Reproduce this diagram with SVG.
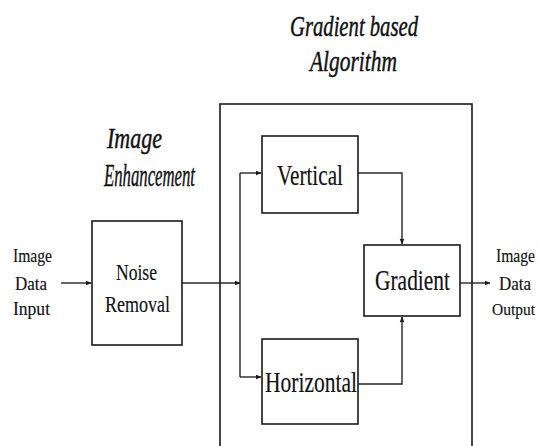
<svg xmlns="http://www.w3.org/2000/svg" width="541" height="446" viewBox="0 0 541 446" font-family="'Liberation Serif', 'Times New Roman', serif">
  <style>
    .box { fill: #ffffff; stroke: #1a1a1a; stroke-width: 1.6; }
    .wire { fill: none; stroke: #262626; stroke-width: 1.4; }
    text { font-family: "Liberation Serif", "Times New Roman", serif; fill: #111111; stroke: #111111; stroke-width: 0.15; }
    .ttl { font-style: italic; stroke-width: 0.45; }
  </style>
  <defs>
    <marker id="arrow" viewBox="0 0 10 10" refX="9" refY="5" markerWidth="6" markerHeight="6" markerUnits="userSpaceOnUse" orient="auto">
      <path d="M0,1 L10,5 L0,9 Z" fill="#1a1a1a"/>
    </marker>
  </defs>
  <rect width="541" height="446" fill="#ffffff"/>

  <!-- section titles -->
  <g id="title-algorithm">
    <text class="ttl" x="290" y="36" font-size="29" textLength="128" lengthAdjust="spacingAndGlyphs">Gradient based</text>
    <text class="ttl" x="310" y="71" font-size="29" textLength="87" lengthAdjust="spacingAndGlyphs">Algorithm</text>
  </g>
  <g id="title-enhancement">
    <text class="ttl" x="107" y="148" font-size="30" textLength="55" lengthAdjust="spacingAndGlyphs">Image</text>
    <text class="ttl" x="104" y="186" font-size="32" textLength="91" lengthAdjust="spacingAndGlyphs">Enhancement</text>
  </g>

  <!-- enclosing algorithm frame -->
  <g id="algorithm-frame">
    <rect class="box" x="220" y="104" width="252" height="360" fill="none"/>
  </g>

  <!-- connectors -->
  <g id="connectors">
    <path class="wire" d="M61,283 H91" marker-end="url(#arrow)"/>
    <path class="wire" d="M182,283 H240" marker-end="url(#arrow)"/>
    <path class="wire" d="M240,173 V377"/>
    <path class="wire" d="M240,173 H261" marker-end="url(#arrow)"/>
    <path class="wire" d="M240,377 H261" marker-end="url(#arrow)"/>
    <path class="wire" d="M358,173 H402 V244" marker-end="url(#arrow)"/>
    <path class="wire" d="M358,384 H402 V317" marker-end="url(#arrow)"/>
    <path class="wire" d="M460,283 H490" marker-end="url(#arrow)"/>
  </g>

  <!-- input label -->
  <g id="input-label">
    <text x="13" y="262" font-size="18" textLength="39" lengthAdjust="spacingAndGlyphs">Image</text>
    <text x="15" y="290" font-size="18" textLength="32" lengthAdjust="spacingAndGlyphs">Data</text>
    <text x="13" y="315" font-size="18" textLength="37" lengthAdjust="spacingAndGlyphs">Input</text>
  </g>

  <g id="noise-removal">
    <rect class="box" x="92" y="221" width="90" height="124"/>
    <text x="116" y="280" font-size="24" textLength="41" lengthAdjust="spacingAndGlyphs">Noise</text>
    <text x="105" y="312" font-size="24" textLength="65" lengthAdjust="spacingAndGlyphs">Removal</text>
  </g>

  <g id="vertical">
    <rect class="box" x="262" y="136" width="96" height="77"/>
    <text x="277" y="185" font-size="29" textLength="66" lengthAdjust="spacingAndGlyphs">Vertical</text>
  </g>

  <g id="horizontal">
    <rect class="box" x="262" y="339" width="96" height="85"/>
    <text x="265" y="392" font-size="29" textLength="92" lengthAdjust="spacingAndGlyphs">Horizontal</text>
  </g>

  <g id="gradient">
    <rect class="box" x="364" y="245" width="96" height="71"/>
    <text x="375" y="290" font-size="29" textLength="75" lengthAdjust="spacingAndGlyphs">Gradient</text>
  </g>

  <!-- output label -->
  <g id="output-label">
    <text x="496" y="262" font-size="18" textLength="39" lengthAdjust="spacingAndGlyphs">Image</text>
    <text x="499" y="290" font-size="18" textLength="32" lengthAdjust="spacingAndGlyphs">Data</text>
    <text x="492" y="315" font-size="16.5" textLength="43" lengthAdjust="spacingAndGlyphs">Output</text>
  </g>
</svg>
